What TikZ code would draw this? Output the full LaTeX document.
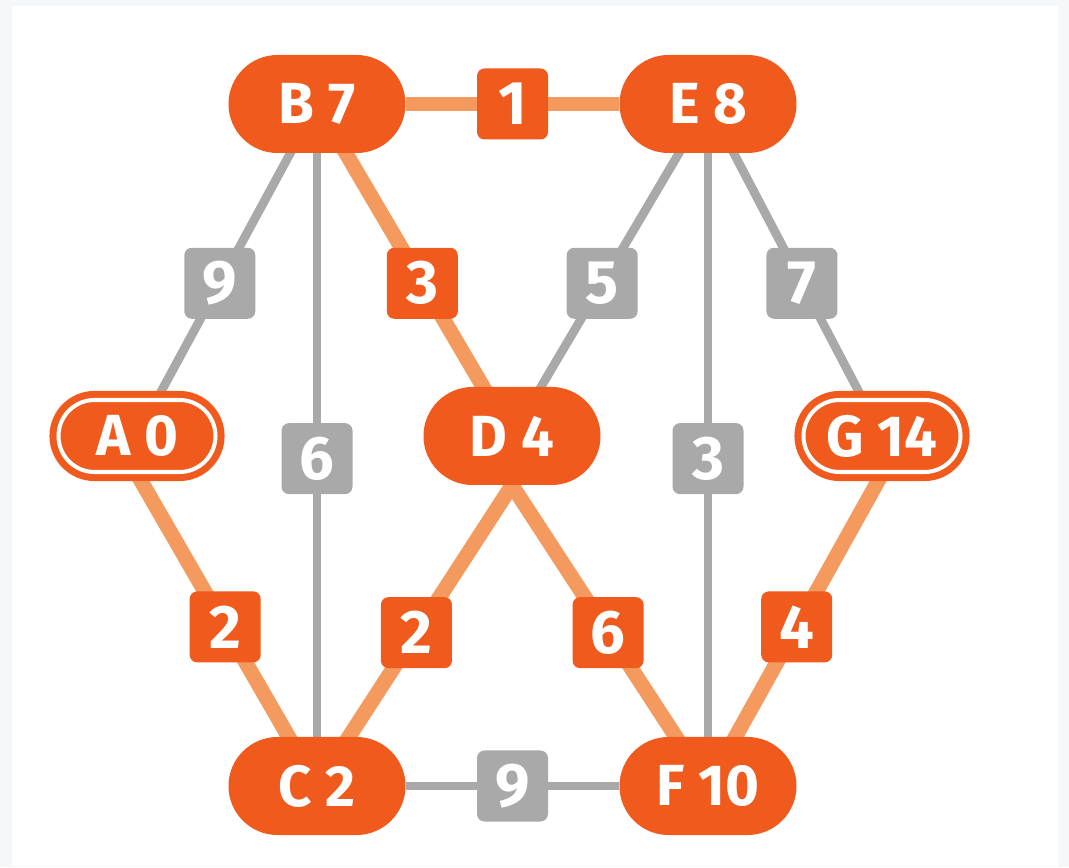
\documentclass[tikz,border=0pt]{standalone}
\usepackage{fontspec}
\setmainfont{Fira Sans}
\usepackage{tikz}
\usetikzlibrary{positioning}
\definecolor{NodeOrange}{HTML}{F05A1C}
\definecolor{EdgeOrange}{HTML}{F59A5E}
\definecolor{EdgeGray}{HTML}{A9A9A9}
\definecolor{PageGray}{HTML}{F6F7F9}
\pgfdeclarelayer{bg}
\pgfdeclarelayer{edges}
\pgfsetlayers{bg,edges,main}
\tikzset{
  vnode/.style={fill=NodeOrange,rounded corners=0.98cm,
    minimum width=3.54cm,minimum height=1.96cm,inner sep=0pt,
    font=\fontsize{33}{36}\selectfont\bfseries,text=white},
  endnode/.style={fill=NodeOrange,draw=white,line width=2.3pt,
    preaction={draw=NodeOrange,line width=10.3pt},
    rounded corners=0.72cm,minimum width=3.14cm,minimum height=1.44cm,
    inner sep=0pt,font=\fontsize{33}{36}\selectfont\bfseries,text=white},
  hotlbl/.style={fill=NodeOrange,rounded corners=0.15cm,minimum size=1.42cm,
    inner sep=0pt,font=\fontsize{35}{38}\selectfont\bfseries,text=white},
  coldlbl/.style={hotlbl,fill=EdgeGray},
  hotedge/.style={draw=EdgeOrange,line width=8.5pt},
  coldedge/.style={draw=EdgeGray,line width=5pt},
}
\begin{document}
\begin{tikzpicture}
  \useasboundingbox (0,0) rectangle (21.38,17.34);
  \begin{pgfonlayer}{bg}
    \fill[PageGray] (0,0) rectangle (21.38,17.34);
    \fill[white] (0.24,0.02) rectangle (21.16,17.22);
  \end{pgfonlayer}
  % vertices with distances
  \node[vnode] (B) at (6.34,15.26) {B 7};
  \node[vnode] (E) at (14.16,15.26) {E 8};
  \node[endnode] (A) at (2.74,8.62) {A 0};
  \node[vnode] (D) at (10.24,8.62) {D 4};
  \node[endnode] (G) at (17.64,8.62) {G 14};
  \node[vnode] (C) at (6.34,1.62) {C 2};
  \node[vnode] (F) at (14.16,1.62) {F 10};
  % weighted edges
  \begin{pgfonlayer}{edges}
    \draw[hotedge] (B) -- node[hotlbl] {1} (E);
    \draw[coldedge] (B.center) -- node[coldlbl,pos=.54] {9} (A.center);
    \draw[coldedge] (B.center) -- node[coldlbl,pos=.52] {6} (C.center);
    \draw[hotedge] (B.center) -- node[hotlbl,pos=.54] {3} (D.center);
    \draw[coldedge] (E.center) -- node[coldlbl,pos=.54] {5} (D.center);
    \draw[coldedge] (E.center) -- node[coldlbl,pos=.52] {3} (F.center);
    \draw[coldedge] (E.center) -- node[coldlbl,pos=.54] {7} (G.center);
    \draw[hotedge,shorten <=-8pt] (A.south) -- node[hotlbl,pos=.49] {2} (C.center);
    \draw[hotedge,shorten <=-8pt] (D.south) -- node[hotlbl,pos=.49] {2} (C.center);
    \draw[hotedge,shorten <=-8pt] (D.south) -- node[hotlbl,pos=.49] {6} (F.center);
    \draw[hotedge,shorten <=-8pt] (G.south) -- node[hotlbl,pos=.49] {4} (F.center);
    \draw[coldedge] (C) -- node[coldlbl] {9} (F);
  \end{pgfonlayer}
\end{tikzpicture}
\end{document}
